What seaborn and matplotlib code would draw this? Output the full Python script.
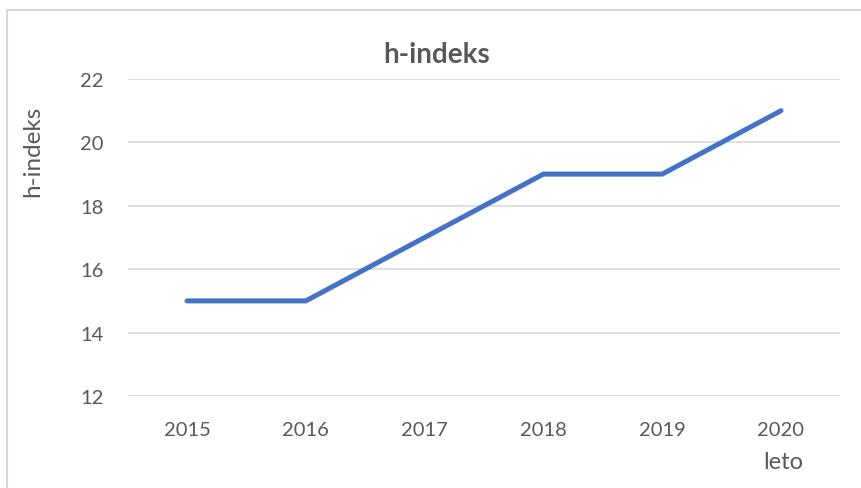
import matplotlib
matplotlib.use("Agg")
import matplotlib.pyplot as plt
import seaborn as sns
import pandas as pd
from matplotlib.patches import Rectangle

years = ["2015", "2016", "2017", "2018", "2019", "2020"]
h_index = [15, 15, 17, 19, 19, 21]
y_ticks = [12, 14, 16, 18, 20, 22]

sns.set_theme(style="white")
plt.rcParams['font.family'] = ['Lato', 'DejaVu Sans']

df = pd.DataFrame({"leto": range(len(years)), "h": h_index})

fig = plt.figure(figsize=(8.61, 4.89), dpi=100)
ax = fig.add_axes([127.6/861, 1-397/489, (840.4-127.6)/861, (397-80)/489])

sns.lineplot(data=df, x="leto", y="h", ax=ax, color="#4472C4", linewidth=3.6,
             solid_capstyle="round", solid_joinstyle="miter")

ax.set_xlim(-0.5, len(years)-0.5)
ax.set_ylim(12, 22)
ax.set_yticks(y_ticks)
ax.set_xticks(range(len(years)))
ax.set_xticklabels(years)
ax.yaxis.grid(True, color="#D9D9D9", linewidth=1.2)
ax.set_axisbelow(True)
for s in ax.spines.values():
    s.set_visible(False)
ax.tick_params(axis="both", length=0, labelsize=14.5, labelcolor="#595959")
ax.tick_params(axis="x", pad=18)
ax.tick_params(axis="y", pad=17)
ax.set_xlabel("")
ax.set_ylabel("")

fig.text(437/861, 1-55/489, "h-indeks", ha="center", va="center",
         fontsize=20, fontweight="bold", color="#595959")
fig.text(33/861, 1-151/489, "h-indeks", ha="center", va="center",
         rotation=90, fontsize=17.5, color="#595959")
fig.text(783/861, 1-463/489, "leto", ha="center", va="center",
         fontsize=17, color="#595959")

fig.patches.append(Rectangle((7/861, -0.1), 1.0, 1-11/489+0.1,
                             transform=fig.transFigure, fill=False,
                             edgecolor="#D9D9D9", linewidth=1.5, clip_on=False))

fig.savefig("out.png", dpi=100, facecolor="white")
